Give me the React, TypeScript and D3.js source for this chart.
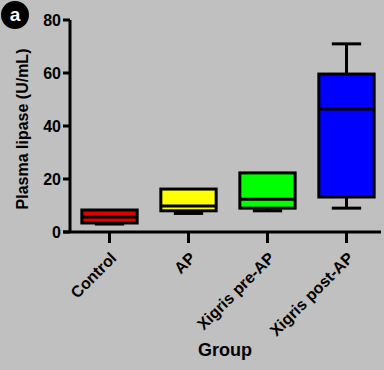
import React from "react";
import * as d3 from "d3";

const categories = ["Control", "AP", "Xigris pre-AP", "Xigris post-AP"];
const mins = [3, 7, 8, 9];
const q1s = [3.4, 8, 9, 13.2];
const medians = [5.7, 9.8, 12.4, 46.4];
const q3s = [8.3, 16.2, 22.3, 59.6];
const maxs = [8, 16, 22, 71];
const colors = ["#e00000", "#ffff00", "#00ff00", "#0000ff"];
const yTicks = [0, 20, 40, 60, 80];

const W = 384, H = 370;
const font = "Liberation Sans, Arial, sans-serif";

export default function App() {
  const x = d3.scaleBand().domain(categories).range([70, 386]).paddingInner(0.3).paddingOuter(0.15);
  const y = d3.scaleLinear().domain([0, 80]).range([232, 20]);
  const bw = x.bandwidth();
  return (
    <svg width={W} height={H} style={{ position: "absolute", left: 0, top: 0, background: "#c0c0c0" }}>
      <rect x={0} y={0} width={W} height={H} fill="#c0c0c0" />
      <circle cx={15} cy={15} r={14} fill="#000" />
      <text x={15} y={21} textAnchor="middle" fill="#fff" fontFamily={font} fontWeight="bold" fontSize={19}>a</text>
      {/* y axis */}
      <line x1={70} x2={70} y1={y(80)} y2={y(0)} stroke="#000" strokeWidth={3} />
      {yTicks.map((t) => (
        <g key={t}>
          <line x1={63} x2={70} y1={y(t)} y2={y(t)} stroke="#000" strokeWidth={3} />
          <text x={61} y={y(t) + 6} textAnchor="end" fontFamily={font} fontWeight="bold" fontSize={16}>{t}</text>
        </g>
      ))}
      <text transform={`translate(28,${y(40) + 3}) rotate(-90)`} textAnchor="middle" fontFamily={font} fontWeight="bold" fontSize={16}>Plasma lipase (U/mL)</text>
      {/* x axis */}
      <line x1={63} x2={381} y1={y(0)} y2={y(0)} stroke="#000" strokeWidth={3} />
      {categories.map((c, i) => {
        const cx = (x(c) as number) + bw / 2;
        const capW = bw * 0.53;
        return (
          <g key={c}>
            <line x1={cx} x2={cx} y1={y(0)} y2={y(0) + 11} stroke="#000" strokeWidth={3} />
            <text transform={`translate(${cx + 8},${y(0) + 27}) rotate(-45)`} textAnchor="end" fontFamily={font} fontWeight="bold" fontSize={16}>{c}</text>
            <line x1={cx} x2={cx} y1={y(maxs[i])} y2={y(q3s[i])} stroke="#000" strokeWidth={3} />
            <line x1={cx} x2={cx} y1={y(mins[i])} y2={y(q1s[i])} stroke="#000" strokeWidth={3} />
            <line x1={cx - capW / 2} x2={cx + capW / 2} y1={y(maxs[i])} y2={y(maxs[i])} stroke="#000" strokeWidth={3} />
            <line x1={cx - capW / 2} x2={cx + capW / 2} y1={y(mins[i])} y2={y(mins[i])} stroke="#000" strokeWidth={3} />
            <rect x={x(c)} y={y(q3s[i])} width={bw} height={y(q1s[i]) - y(q3s[i])} fill={colors[i]} stroke="#000" strokeWidth={3} />
            <line x1={x(c)} x2={(x(c) as number) + bw} y1={y(medians[i])} y2={y(medians[i])} stroke="#000" strokeWidth={3} />
          </g>
        );
      })}
      <text x={225} y={356} textAnchor="middle" fontFamily={font} fontWeight="bold" fontSize={18}>Group</text>
    </svg>
  );
}
